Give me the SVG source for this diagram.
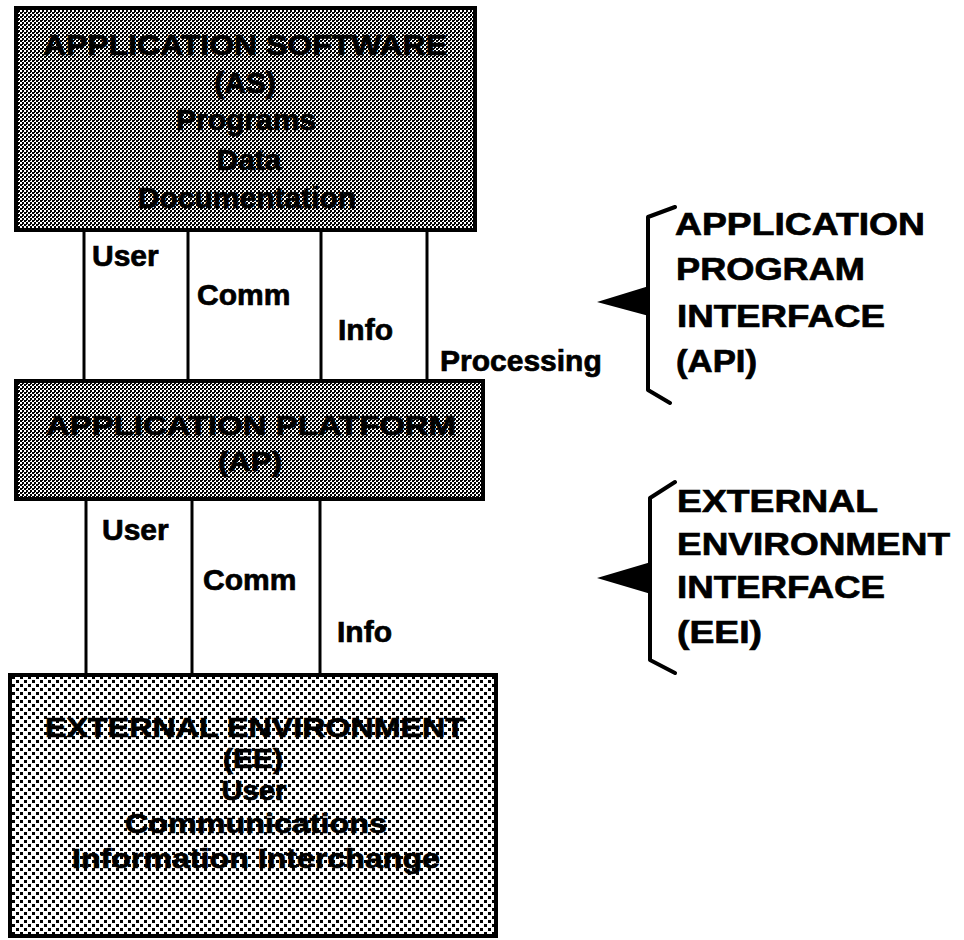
<svg xmlns="http://www.w3.org/2000/svg" width="964" height="940" viewBox="0 0 964 940">
  <defs>
    <pattern id="checker" patternUnits="userSpaceOnUse" width="4" height="4">
      <rect width="4" height="4" fill="#ffffff"/>
      <rect x="0" y="0" width="2" height="2" fill="#000000"/>
      <rect x="2" y="2" width="2" height="2" fill="#000000"/>
      <rect x="2" y="0" width="1" height="1" fill="#000000"/>
    </pattern>
    <pattern id="dots" patternUnits="userSpaceOnUse" width="8" height="8">
      <rect width="8" height="8" fill="#ffffff"/>
      <rect x="0" y="0" width="3" height="3" fill="#000000"/>
      <rect x="4" y="4" width="3" height="3" fill="#000000"/>
    </pattern>
    <style>
      .box { stroke: #000; stroke-width: 4; }
      .as { fill: url(#checker); }
      .ap { fill: url(#checker); }
      .ee { fill: url(#dots); }
      .conn { stroke: #000; stroke-width: 3; fill: none; }
      .bracket { stroke: #000; stroke-width: 4; fill: none; stroke-linecap: round; stroke-linejoin: round; }
      .arrow { fill: #000; stroke: none; }
      text { font-family: "Liberation Sans", Arial, Helvetica, sans-serif; font-weight: bold; fill: #000; stroke: #000; stroke-width: 0.7px; }
      .boxtxt { font-size: 30px; text-anchor: middle; }
      .eetxt { font-size: 28px; text-anchor: middle; }
      .lbl { font-size: 30px; }
      .side { font-size: 32px; }
    </style>
  </defs>
  <rect width="964" height="940" fill="#ffffff"/>

  <g id="connectors">
    <line class="conn" x1="84" y1="230" x2="84" y2="381"/>
    <line class="conn" x1="188" y1="230" x2="188" y2="381"/>
    <line class="conn" x1="321" y1="230" x2="321" y2="381"/>
    <line class="conn" x1="427" y1="230" x2="427" y2="381"/>
    <line class="conn" x1="86" y1="499" x2="86" y2="675"/>
    <line class="conn" x1="192" y1="499" x2="192" y2="675"/>
    <line class="conn" x1="320" y1="499" x2="320" y2="675"/>
  </g>

  <g id="connector-labels">
    <text class="lbl" x="92" y="266">User</text>
    <text class="lbl" x="197" y="305">Comm</text>
    <text class="lbl" x="338" y="340">Info</text>
    <text class="lbl" x="440" y="371">Processing</text>
    <text class="lbl" x="102" y="540">User</text>
    <text class="lbl" x="203" y="590">Comm</text>
    <text class="lbl" x="337" y="642">Info</text>
  </g>

  <g id="node-as">
    <rect class="box as" x="16" y="8" width="459" height="222"/>
    <text class="boxtxt" x="245" y="55" textLength="404" lengthAdjust="spacingAndGlyphs">APPLICATION SOFTWARE</text>
    <text class="boxtxt" x="245" y="93">(AS)</text>
    <text class="boxtxt" x="246" y="130">Programs</text>
    <text class="boxtxt" x="249" y="170">Data</text>
    <text class="boxtxt" x="247" y="208">Documentation</text>
  </g>

  <g id="node-ap">
    <rect class="box ap" x="16" y="381" width="467" height="118"/>
    <text class="eetxt" x="251" y="435" textLength="410" lengthAdjust="spacingAndGlyphs">APPLICATION PLATFORM</text>
    <text class="eetxt" x="250" y="471" textLength="64" lengthAdjust="spacingAndGlyphs">(AP)</text>
  </g>

  <g id="node-ee">
    <rect class="box ee" x="10" y="675" width="486" height="261"/>
    <text class="eetxt" x="255" y="737" textLength="420" lengthAdjust="spacingAndGlyphs">EXTERNAL ENVIRONMENT</text>
    <text class="eetxt" x="253" y="768" textLength="60" lengthAdjust="spacingAndGlyphs">(EE)</text>
    <text class="eetxt" x="254" y="800" textLength="65" lengthAdjust="spacingAndGlyphs">User</text>
    <text class="eetxt" x="256" y="833" textLength="262" lengthAdjust="spacingAndGlyphs">Communications</text>
    <text class="eetxt" x="256" y="868" textLength="368" lengthAdjust="spacingAndGlyphs">Information Interchange</text>
  </g>

  <g id="node-api">
    <path class="bracket" d="M675,207 L648,217 L648,390 L670,403"/>
    <polygon class="arrow" points="597,302 649,286 649,316"/>
    <text class="side" x="675" y="235" textLength="250" lengthAdjust="spacingAndGlyphs">APPLICATION</text>
    <text class="side" x="676" y="280" textLength="189" lengthAdjust="spacingAndGlyphs">PROGRAM</text>
    <text class="side" x="677" y="327" textLength="208" lengthAdjust="spacingAndGlyphs">INTERFACE</text>
    <text class="side" x="676" y="372" textLength="81" lengthAdjust="spacingAndGlyphs">(API)</text>
  </g>

  <g id="node-eei">
    <path class="bracket" d="M675,482 L650,498 L650,660 L675,673"/>
    <polygon class="arrow" points="597,578 651,562 651,594"/>
    <text class="side" x="677" y="512" textLength="201" lengthAdjust="spacingAndGlyphs">EXTERNAL</text>
    <text class="side" x="677" y="555" textLength="273" lengthAdjust="spacingAndGlyphs">ENVIRONMENT</text>
    <text class="side" x="677" y="598" textLength="208" lengthAdjust="spacingAndGlyphs">INTERFACE</text>
    <text class="side" x="677" y="643" textLength="85" lengthAdjust="spacingAndGlyphs">(EEI)</text>
  </g>
</svg>
